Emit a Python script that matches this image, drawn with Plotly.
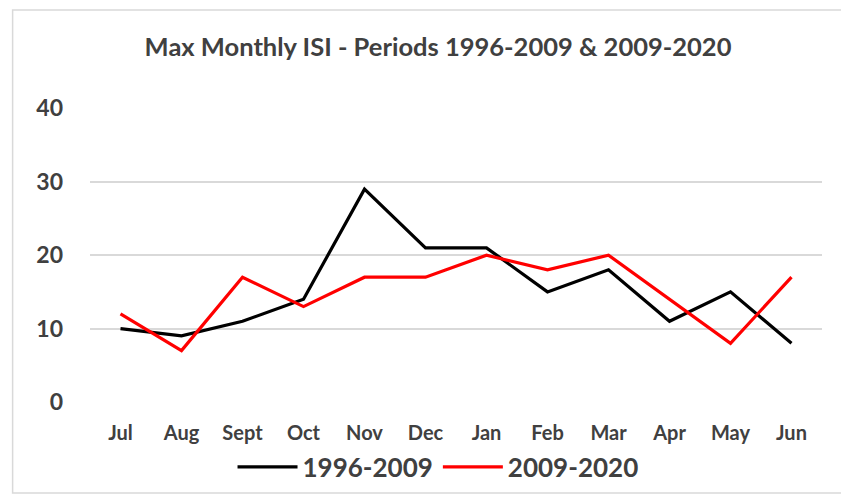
import plotly.graph_objects as go

months = ["Jul", "Aug", "Sept", "Oct", "Nov", "Dec", "Jan", "Feb", "Mar", "Apr", "May", "Jun"]
series_1996_2009 = [10, 9, 11, 14, 29, 21, 21, 15, 18, 11, 15, 8]
series_2009_2020 = [12, 7, 17, 13, 17, 17, 20, 18, 20, 14, 8, 17]
y_ticks = [0, 10, 20, 30, 40]

FONT = "Lato, Carlito, Calibri, sans-serif"
TXT = "#404040"

fig = go.Figure()
fig.add_trace(go.Scatter(x=months, y=series_1996_2009, mode="lines", name="1996-2009",
                         line=dict(color="black", width=3.2)))
fig.add_trace(go.Scatter(x=months, y=series_2009_2020, mode="lines", name="2009-2020",
                         line=dict(color="#ff0000", width=3.2)))

W, H = 849, 500
OFF = 8  # page body margin
L = 89.5 - OFF
R = W - (822.5 - OFF)
T = 108 - OFF
B = H - (402 - OFF)
pw = W - L - R
ph = H - T - B

def px(x):
    return (x - OFF - L) / pw

def py(y):
    return (H - B - (y - OFF)) / ph

fig.update_layout(
    width=W, height=H,
    margin=dict(l=L, r=R, t=T, b=B, autoexpand=False),
    paper_bgcolor="white", plot_bgcolor="white",
    font=dict(family=FONT, color=TXT),
    title=dict(text="Max Monthly ISI - Periods 1996-2009 &amp; 2009-2020",
               x=px(438), xanchor="center", xref="paper",
               y=1 - (47 - OFF) / H, yref="container", yanchor="middle",
               font=dict(size=25.5, color=TXT, family=FONT, weight="bold")),
    showlegend=True,
    legend=dict(orientation="h", x=px(438), xanchor="center", y=py(467), yanchor="middle",
                font=dict(size=26, color=TXT, family=FONT, weight="bold"),
                itemwidth=60,
                traceorder="normal", bgcolor="rgba(0,0,0,0)"),
    xaxis=dict(showgrid=False, showline=False, zeroline=False, ticks="",
               range=[-0.5, len(months) - 0.5],
               tickfont=dict(size=20, color=TXT, family=FONT, weight="bold"),
               ticklabelstandoff=17, fixedrange=True, automargin=False),
    yaxis=dict(range=[0, 40.05], tickvals=y_ticks, showgrid=True, gridcolor="#d9d9d9",
               gridwidth=1.5, zeroline=False, showline=False, ticks="",
               tickfont=dict(size=23, color=TXT, family=FONT, weight="bold"),
               ticklabelstandoff=26, fixedrange=True, automargin=False),
    shapes=[
        dict(type="rect", xref="paper", yref="paper",
             x0=px(12), x1=px(870), y0=py(493), y1=py(10),
             line=dict(color="#d9d9d9", width=1.5), fillcolor="rgba(0,0,0,0)", layer="below"),
        dict(type="line", xref="paper", yref="paper",
             x0=px(3), x1=px(3), y0=py(-5), y1=py(505),
             line=dict(color="#d9d9d9", width=1.5)),
    ],
)

fig.write_html("out.html")
